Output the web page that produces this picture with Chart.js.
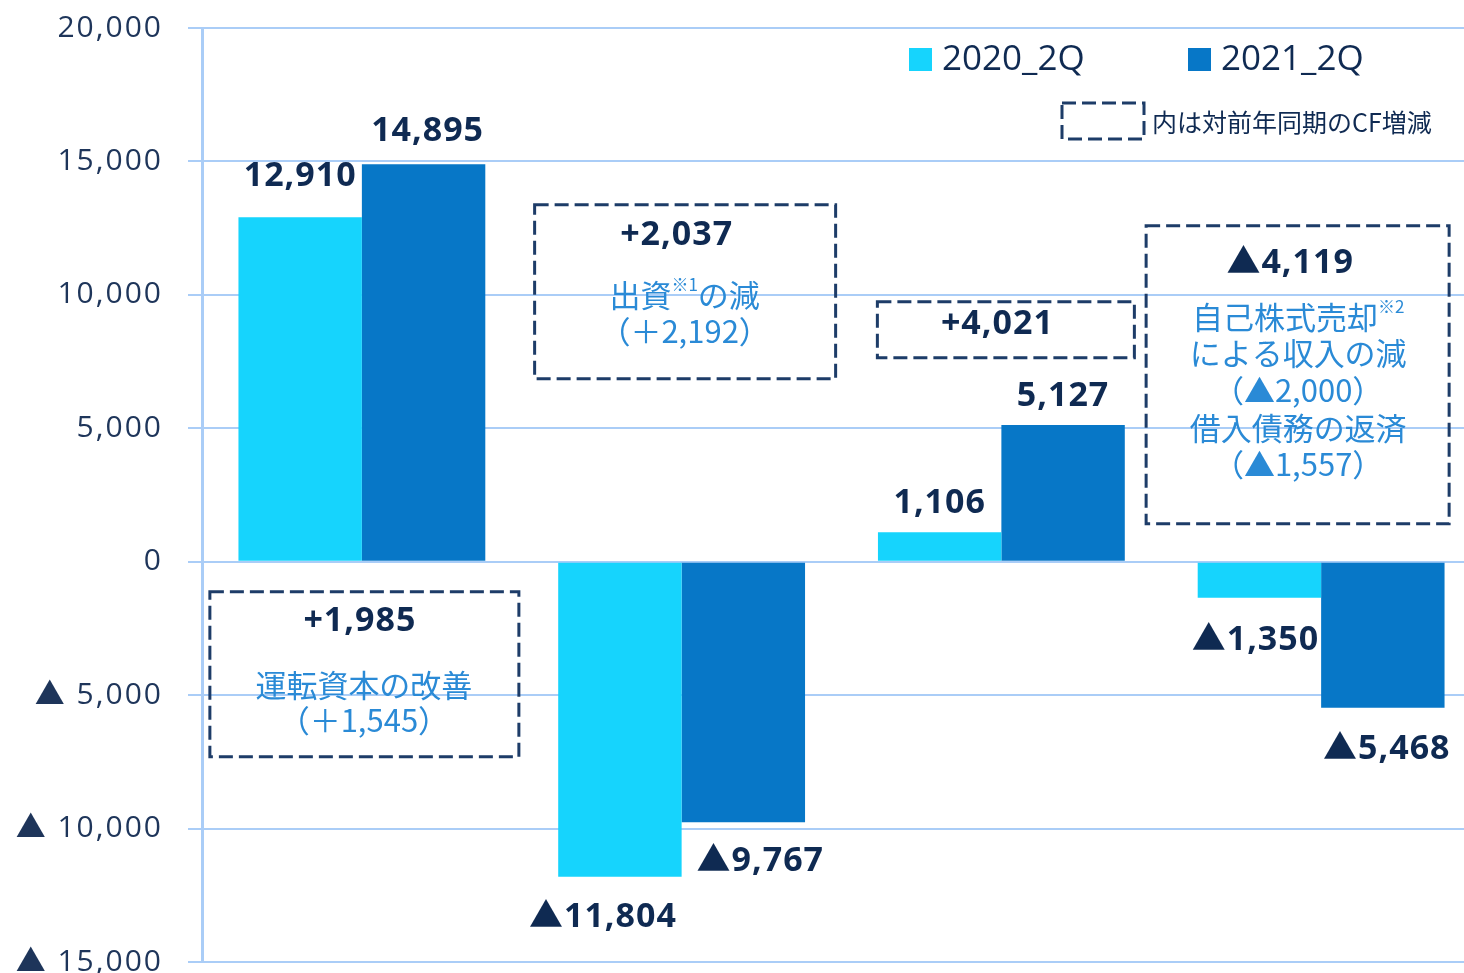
<!DOCTYPE html>
<html lang="ja">
<head>
<meta charset="utf-8">
<title>CF 2020_2Q / 2021_2Q</title>
<script src="https://cdn.jsdelivr.net/npm/chart.js@4/dist/chart.umd.min.js"></script>
<style>
  html, body { margin: 0; padding: 0; background: #ffffff; overflow: hidden; }
  #wrap { width: 1481px; height: 973px; position: relative; }
</style>
</head>
<body>
<div id="wrap"><canvas id="cfChart"></canvas></div>
<script>
// categories (axis labels are hidden in the original)
const categories = ['営業CF', '投資CF', 'フリーCF', '財務CF'];
const seriesNames = ['2020_2Q', '2021_2Q'];
const values2020 = [12910, -11804, 1106, -1350];
const values2021 = [14895, -9767, 5127, -5468];
const yTicks = [-15000, -10000, -5000, 0, 5000, 10000, 15000, 20000];

// change vs. same period last year, shown in the dashed boxes
const boxValues = ['+1,985', '+2,037', '+4,021', '▲4,119'];
const boxNotes = [
  [[['運転資本の改善']], [['（＋1,545）']]],
  [[['出資'], ['※1', true], ['の減']], [['（＋2,192）']]],
  [],
  [[['自己株式売却'], ['※2', true]], [['による収入の減']], [['（▲2,000）']], [['借入債務の返済']], [['（▲1,557）']]]
];
const legendNote = '内は対前年同期のCF増減';

const colors = ['#16d4fd', '#0777c7'];
const navy = '#0f2a52';
const noteBlue = '#2a8ad6';
const dashColor = '#1d3c68';
const gridColor = '#aacdf7';
const valueFont = 'bold 34px "Open Sans", "Noto Sans CJK JP"';

function fmt(v) {
  const s = Math.abs(v).toLocaleString('en-US');
  return v < 0 ? '▲' + s : s;
}

// label offsets per series / category: [dx, dy]
const labelOffsets = [
  [[0, -41], [-17, 41], [0, -29], [-4, 43]],
  [[4, -33], [17, 39], [0, -29], [4, 42]]
];

// box geometry: category, left/right px offsets from category centre, top value, height,
// dx of bold value, dx of notes, line offsets
const boxLayout = [
  { cat: 0, l: -152, r: 157, top: -1124, h: 165, vx: -2, nx: 2, lines: [30, 94, 129] },
  { cat: 1, l: -147, r: 154, top: 13378, h: 174, vx: -5, nx: 3, lines: [31, 91, 127] },
  { cat: 2, l: -124, r: 133, top: 9743, h: 56, vx: -4, nx: 0, lines: [23] },
  { cat: 3, l: -175, r: 128, top: 12591, h: 298, vx: -31, nx: -23, lines: [38, 92, 128, 165, 203, 239] }
];

function dashedRect(ctx, x, y, w, h) {
  ctx.save();
  ctx.strokeStyle = dashColor;
  ctx.lineWidth = 3;
  ctx.setLineDash([14, 6]);
  ctx.strokeRect(x, y, w, h);
  ctx.restore();
}

function drawRuns(ctx, runs, cx, cy, size) {
  const mainFont = size + 'px "Noto Sans CJK JP"';
  const supFont = Math.round(size * 0.55) + 'px "Noto Sans CJK JP"';
  let total = 0;
  runs.forEach(r => {
    ctx.font = r[1] ? supFont : mainFont;
    total += ctx.measureText(r[0]).width;
  });
  let x = cx - total / 2;
  ctx.textAlign = 'left';
  ctx.textBaseline = 'middle';
  runs.forEach(r => {
    ctx.font = r[1] ? supFont : mainFont;
    ctx.fillText(r[0], x, r[1] ? cy - size * 0.35 : cy);
    x += ctx.measureText(r[0]).width;
  });
}

// wider spacing for the y tick labels only
const tickSpacing = {
  id: 'tickSpacing',
  beforeDraw(chart) { chart.ctx.letterSpacing = '2px'; },
  beforeDatasetsDraw(chart) { chart.ctx.letterSpacing = '0px'; }
};

const overlayPlugin = {
  id: 'overlay',
  afterDatasetsDraw(chart) {
    const ctx = chart.ctx;
    const xs = chart.scales.x;
    const ys = chart.scales.y;

    // bar value labels
    ctx.save();
    ctx.fillStyle = navy;
    ctx.font = valueFont;
    ctx.letterSpacing = '1px';
    ctx.textAlign = 'center';
    ctx.textBaseline = 'middle';
    chart.data.datasets.forEach((ds, di) => {
      chart.getDatasetMeta(di).data.forEach((bar, i) => {
        const off = labelOffsets[di][i];
        ctx.fillText(fmt(ds.data[i]), bar.x + off[0], bar.y + off[1]);
      });
    });
    ctx.restore();

    // dashed annotation boxes
    boxLayout.forEach((b, i) => {
      const cx = xs.getPixelForValue(b.cat);
      const top = ys.getPixelForValue(b.top);
      dashedRect(ctx, cx + b.l, top, b.r - b.l, b.h);
      ctx.save();
      ctx.fillStyle = navy;
      ctx.font = valueFont;
      ctx.letterSpacing = '1px';
      ctx.textAlign = 'center';
      ctx.textBaseline = 'middle';
      ctx.fillText(boxValues[i], cx + b.vx, top + b.lines[0]);
      ctx.letterSpacing = '0px';
      ctx.fillStyle = noteBlue;
      boxNotes[i].forEach((runs, k) => {
        drawRuns(ctx, runs, cx + b.nx, top + b.lines[k + 1], 31);
      });
      ctx.restore();
    });

    // legend
    ctx.save();
    ctx.letterSpacing = '0px';
    const legendX = [909, 1188];
    seriesNames.forEach((name, i) => {
      ctx.fillStyle = colors[i];
      ctx.fillRect(legendX[i], 48, 23, 23);
      ctx.fillStyle = navy;
      ctx.font = '35px "Open Sans"';
      ctx.textAlign = 'left';
      ctx.textBaseline = 'middle';
      ctx.fillText(name, legendX[i] + 33, 60);
    });
    dashedRect(ctx, 1062, 103, 82, 36);
    ctx.fillStyle = navy;
    ctx.font = '25px "Noto Sans CJK JP"';
    ctx.textAlign = 'left';
    ctx.textBaseline = 'middle';
    ctx.fillText(legendNote, 1152, 122);
    ctx.restore();
  }
};

const ctx = document.getElementById('cfChart').getContext('2d');
new Chart(ctx, {
  type: 'bar',
  data: {
    labels: categories,
    datasets: [
      { label: seriesNames[0], data: values2020, backgroundColor: colors[0] },
      { label: seriesNames[1], data: values2021, backgroundColor: colors[1] }
    ]
  },
  options: {
    responsive: true,
    maintainAspectRatio: false,
    animation: false,
    layout: { padding: { top: 28, bottom: 11, left: 0, right: 0 } },
    datasets: { bar: { categoryPercentage: 0.772, barPercentage: 1.0 } },
    plugins: {
      legend: { display: false },
      tooltip: { enabled: false }
    },
    scales: {
      x: { display: false },
      y: {
        min: yTicks[0],
        max: yTicks[yTicks.length - 1],
        afterBuildTicks: scale => { scale.ticks = yTicks.map(v => ({ value: v })); },
        afterFit: scale => {
          scale.width = 202;
          scale.paddingTop = 0;
          scale.paddingBottom = 0;
        },
        grid: { color: gridColor, lineWidth: 2, tickLength: 14 },
        border: { color: gridColor, width: 3 },
        ticks: {
          padding: 25,
          color: '#1e355a',
          font: { family: '"Open Sans", "Noto Sans CJK JP"', size: 30 },
          callback: v => (v < 0 ? '▲ ' + Math.abs(v).toLocaleString('en-US') : v.toLocaleString('en-US'))
        }
      }
    }
  },
  plugins: [tickSpacing, overlayPlugin]
});
</script>
</body>
</html>
